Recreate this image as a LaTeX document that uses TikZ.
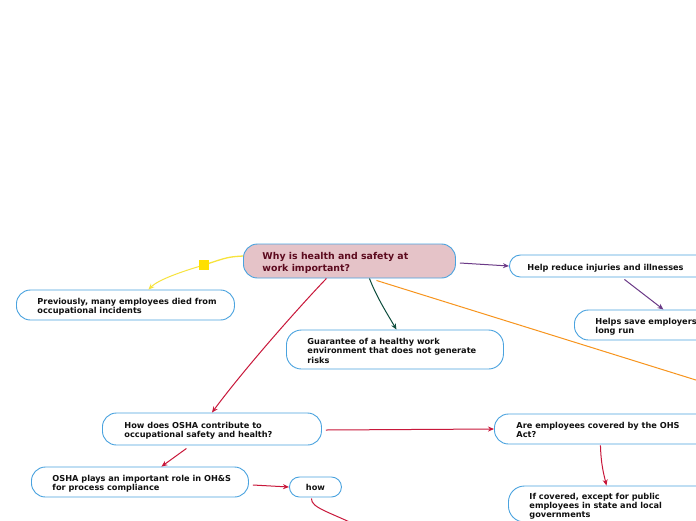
\documentclass[tikz,border=0pt]{standalone}
\usepackage{fontspec}
\setmainfont{DejaVu Sans}
\usetikzlibrary{arrows.meta}
\definecolor{bord}{HTML}{4AA3DF}
\definecolor{cpink}{HTML}{E5C3C8}
\definecolor{cmaroon}{HTML}{5C0A1E}
\definecolor{cyellow}{HTML}{F7E33C}
\definecolor{csq}{HTML}{FFE000}
\definecolor{cpurple}{HTML}{6B3A87}
\definecolor{cgreen}{HTML}{0D4D3D}
\definecolor{corange}{HTML}{F7941D}
\definecolor{ccrimson}{HTML}{C8173A}
\definecolor{ctext}{HTML}{111111}
\newcommand{\boxlines}[2]{\raisebox{-2.5pt}[\height][\depth]{\makebox[#1][l]{\begin{tabular}{@{}l@{}}#2\end{tabular}}}}
\begin{document}
\begin{tikzpicture}[x=1pt,y=1pt,
  box/.style={draw=bord, line width=0.9pt, fill=white, rounded corners=14pt, anchor=west,
    inner xsep=21pt, inner ysep=0pt, text=ctext, font=\fontsize{8.2}{9.2}\selectfont\bfseries},
  con/.style={line width=1pt, -{Stealth[length=6pt,width=5pt]}},
  sq/.style={fill=csq, draw=none, minimum size=10pt, inner sep=0pt}]
\useasboundingbox (0,0) rectangle (696,-520);
\fill[white] (0,0) rectangle (696,-520);
% nodes
\node[box, fill=cpink, text=cmaroon, font=\fontsize{9.4}{12}\selectfont\bfseries, inner xsep=19pt, minimum height=34pt] (c) at (243,-261) {\boxlines{174pt}{Why is health and safety at\\work important?}};
\node[box, minimum height=30pt] (p) at (16,-305) {\boxlines{176pt}{Previously, many employees died from\\occupational incidents}};
\node[box, inner xsep=18pt, minimum height=22pt, rounded corners=11pt] (h) at (509,-266) {\boxlines{174pt}{Help reduce injuries and illnesses}};
\node[box, minimum height=30pt] (s) at (574,-325) {\boxlines{200pt}{Helps save employers\\long run}};
\node[box, minimum height=39pt, rounded corners=15pt] (g) at (286,-349.5) {\boxlines{175pt}{Guarantee of a healthy work\\environment that does not generate\\risks}};
\node[box, inner xsep=22pt, minimum height=32pt] (hd) at (102,-429) {\boxlines{175pt}{How does OSHA contribute to\\occupational safety and health?}};
\node[box, inner xsep=22pt, minimum height=30pt] (a) at (494,-429) {\boxlines{200pt}{Are employees covered by the OHS\\Act?}};
\node[box, minimum height=30pt] (o) at (31,-482) {\boxlines{175pt}{OSHA plays an important role in OH\&S\\for process compliance}};
\node[box, inner xsep=0pt, minimum width=52pt, minimum height=20pt, rounded corners=10pt] (hw) at (289,-487) {how};
\node[box, minimum height=36pt, rounded corners=16pt] (ifc) at (508,-504) {\boxlines{200pt}{If covered, except for public\\employees in state and local\\governments}};
% connectors
\coordinate (sqc) at (204,-265);
\draw[cyellow, line width=1.3pt] ([yshift=5pt]c.west) .. controls (228,-257) .. (sqc);
\draw[con, cyellow] (sqc) .. controls (180,-272) and (158,-280) .. ([xshift=23pt]p.north);
\node[sq] (sq) at (sqc) {};
\draw[con, cpurple] ([xshift=4pt,yshift=-2pt]c.east) -- (h.west);
\draw[con, cpurple] ([xshift=10pt,yshift=-2pt]h.south) -- ([xshift=-32pt]s.north);
\draw[con, cgreen] ([xshift=20pt]c.south) .. controls (377,-298) and (388,-315) .. ([xshift=1.5pt]g.north);
\coordinate (oend) at (710,-384.4);
\draw[corange, line width=1pt] ([xshift=27pt,yshift=-2pt]c.south) -- (oend);
\draw[con, ccrimson] ([xshift=-23pt]c.south) .. controls (300,-306) and (245,-368) .. (hd.north);
\draw[con, ccrimson] ([xshift=4pt,yshift=-1pt]hd.east) -- (a.west);
\draw[con, ccrimson] ([xshift=-16pt,yshift=-1pt]a.south) .. controls (601,-465) and (604,-475) .. ([xshift=-23pt]ifc.north);
\draw[con, ccrimson] ([xshift=-25.5pt,yshift=-3pt]hd.south) -- ([xshift=21.5pt]o.north);
\draw[con, ccrimson] ([xshift=4pt,yshift=-3pt]o.east) -- (hw.west);
\coordinate (hend) at (360,-527);
\draw[ccrimson, line width=1pt] ([xshift=-4pt,yshift=-1pt]hw.south) .. controls (311,-508) and (330,-512) .. (hend);
\end{tikzpicture}
\end{document}
